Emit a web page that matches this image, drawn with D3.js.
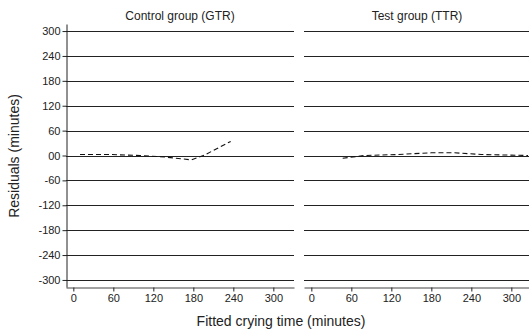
<!DOCTYPE html>
<html>
<head>
<meta charset="utf-8">
<script src="https://cdn.jsdelivr.net/npm/d3@7"></script>
<style>
  body { margin: 0; background: #fff; }
  text { font-family: "Liberation Sans", Arial, sans-serif; fill: #222; }
</style>
</head>
<body>
<svg id="chart"></svg>
<script>
// panel titles
var panelTitles = ["Control group (GTR)", "Test group (TTR)"];

// residual curves (fitted minutes, residual minutes)
var gtrFitted = [10, 55, 100, 137, 177, 197, 236];
var gtrResid = [2.4, 2.4, 0, -3.6, -10.5, 1.2, 34];
var ttrFitted = [47, 80, 130, 180, 215, 255, 325];
var ttrResid = [-6.5, 0, 2.4, 6.5, 6.5, 2.4, 0];

var yTicks = [300, 240, 180, 120, 60, 0, -60, -120, -180, -240, -300];
var xTicks = [0, 60, 120, 180, 240, 300];

var dimensions = {
    width: 529,
    height: 334,
    top: 24,
    bottom: 287,
    panels: [[66, 294], [304, 532]],
    titleX: [180, 417]
}

var svg = d3.select("#chart")
    .attr("width", dimensions.width)
    .attr("height", dimensions.height);

var yScale = d3.scaleLinear()
    .domain([-317, 317])
    .range([dimensions.bottom, dimensions.top]);

var series = [
    gtrFitted.map((d, i) => [d, gtrResid[i]]),
    ttrFitted.map((d, i) => [d, ttrResid[i]])
];

dimensions.panels.forEach(function(p, k) {
    var xScale = d3.scaleLinear()
        .domain([-11, 331])
        .range([p[0], p[1]]);

    var g = svg.append("g");

    // horizontal gridlines
    g.selectAll(".grid")
        .data(yTicks)
        .enter()
        .append("line")
        .attr("x1", p[0])
        .attr("x2", p[1])
        .attr("y1", d => Math.round(yScale(d)) + 0.5)
        .attr("y2", d => Math.round(yScale(d)) + 0.5)
        .attr("stroke", "#222")
        .attr("stroke-width", 1);

    // x axis
    var xAxis = g.append("g")
        .attr("transform", "translate(0," + (dimensions.bottom + 0.5) + ")")
        .call(d3.axisBottom(xScale).tickValues(xTicks).tickSize(4).tickSizeOuter(0));
    xAxis.select(".domain").attr("stroke", "#444");
    xAxis.selectAll(".tick line").attr("stroke", "#222");
    xAxis.selectAll("text")
        .attr("y", 7)
        .style("font-size", "11px")
        .style("fill", "#222");

    // panel title
    svg.append("text")
        .attr("x", dimensions.titleX[k])
        .attr("y", 20)
        .style("text-anchor", "middle")
        .style("font-size", "12px")
        .text(panelTitles[k]);

    // residual line
    var line = d3.line()
        .x(d => xScale(d[0]))
        .y(d => yScale(d[1]));

    g.append("path")
        .datum(series[k])
        .attr("d", line)
        .attr("fill", "none")
        .attr("stroke", "#111")
        .attr("stroke-width", 1.1)
        .attr("stroke-dasharray", "5,3");
});

// y axis on the left panel only
var yAxis = svg.append("g")
    .attr("transform", "translate(66.5,0)")
    .call(d3.axisLeft(yScale).tickValues(yTicks).tickSize(4).tickSizeOuter(0)
        .tickFormat(d => d == 0 ? "00" : d));
yAxis.select(".domain").attr("stroke", "#222");
yAxis.selectAll(".tick line").attr("stroke", "#222");
yAxis.selectAll("text")
    .attr("x", -6)
    .style("font-size", "11px")
    .style("fill", "#222");

// axis labels
svg.append("text")
    .attr("x", 281)
    .attr("y", 326)
    .style("text-anchor", "middle")
    .style("font-size", "14px")
    .text("Fitted crying time (minutes)");

svg.append("text")
    .attr("transform", "translate(19,156)rotate(-90)")
    .style("text-anchor", "middle")
    .style("font-size", "14px")
    .text("Residuals (minutes)");
</script>
</body>
</html>
